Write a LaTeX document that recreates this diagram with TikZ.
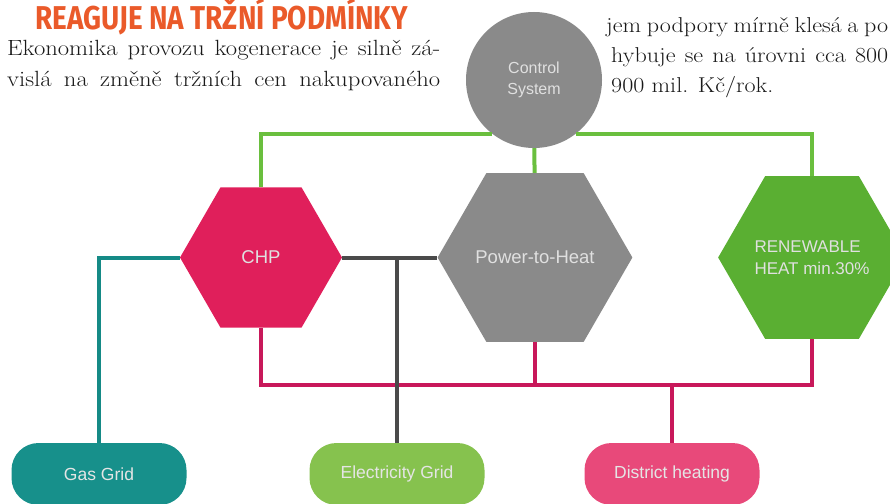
\documentclass[tikz,border=0pt]{standalone}
\usepackage{fontspec}
\usetikzlibrary{shapes.geometric,positioning}
\usepackage{xcolor}

\newfontfamily\diafont{Liberation Sans}
\newfontfamily\titlefont[FakeStretch=0.845]{Fira Sans}
\newfontfamily\pagefont[FakeStretch=1.12]{Latin Modern Roman}

\definecolor{titleorange}{HTML}{EA5A2A}
\definecolor{ctrlgrey}{HTML}{8A8A8A}
\definecolor{chpred}{HTML}{E01F5B}
\definecolor{renewgreen}{HTML}{5AAF32}
\definecolor{gasteal}{HTML}{17908B}
\definecolor{elecgreen}{HTML}{86C24E}
\definecolor{heatpink}{HTML}{E8497A}
\definecolor{ctrlline}{HTML}{6ABF3E}
\definecolor{heatline}{HTML}{C8185A}
\definecolor{gridline}{HTML}{4A4A4A}
\definecolor{gasline}{HTML}{158A86}

\tikzset{
  hexbox/.style={regular polygon, regular polygon sides=6, minimum size=162pt,
    inner sep=0pt, font=\diafont\fontsize{18.5}{22}\selectfont, text=white!88!black},
  gridbox/.style={rectangle, rounded corners=27pt, minimum width=175pt,
    minimum height=62pt, inner sep=0pt, font=\diafont\fontsize{17.5}{21}\selectfont,
    text=white!90!black},
  pagetext/.style={anchor=base west, inner sep=0pt, font=\pagefont\fontsize{22}{30}\selectfont,
    text=black!90},
  link/.style={line width=4pt},
}

\begin{document}
\begin{tikzpicture}[x=1pt,y=-1pt]
	\useasboundingbox (0,0) rectangle (890,503);
	\clip (0,0) rectangle (890,503);
	% page text round the diagram
	\node (title) [anchor=base west, inner sep=0pt, text=titleorange,
		font=\titlefont\bfseries\fontsize{33}{33}\selectfont] at (35,30) {REAGUJE NA TRŽNÍ PODMÍNKY};
	\node (left1) [pagetext] at (7,56) {\makebox[433pt][s]{Ekonomika provozu kogenerace je silně zá-}};
	\node (left2) [pagetext] at (7,86) {\makebox[433pt][s]{vislá na změně tržních cen nakupovaného}};
	\node (right1) [pagetext, font=\pagefont\fontsize{21.5}{30}\selectfont] at (606,33)
		{\makebox[282pt][s]{jem podpory mírně klesá a po}};
	\node (right2) [pagetext, font=\pagefont\fontsize{21.5}{30}\selectfont] at (611,63)
		{\makebox[277pt][s]{hybuje se na úrovni cca 800}};
	\node (right3) [pagetext, font=\pagefont\fontsize{21.5}{30}\selectfont] at (611,92) {900 mil. Kč/rok.};

	% diagram
	\node (ctrl) [circle, fill=ctrlgrey, minimum size=136pt, inner sep=0pt, align=center,
		text=white!88!black, font=\diafont\fontsize{16}{21}\selectfont] at (534, 80) {Control\\System};
	\node (chp) [hexbox, fill=chpred] at (261, 257.5) {CHP};
	\node (p2h) [hexbox, fill=ctrlgrey] at (535, 257.5) {Power-to-Heat};
	\node (ren) [hexbox, fill=renewgreen, align=left,
		font=\diafont\fontsize{17}{22}\selectfont] at (812, 257.5) {RENEWABLE\\HEAT min.30\%};
	\node (gas) [gridbox, fill=gasteal] at (99, 474) {Gas Grid};
	\node (elec) [gridbox, fill=elecgreen] at (397, 474) {Electricity Grid};
	\node (dh) [gridbox, fill=heatpink] at (672, 474) {District heating};
	\coordinate (hbus) at (0, 385);

	\draw[link, ctrlline] (ctrl) -- (p2h);
	\draw[link, ctrlline] (chp.north) |- (ctrl.-128);
	\draw[link, ctrlline] (ren.north) |- (ctrl.-52);
	\draw[link, gasline] (chp.west) -| (gas.north);
	\draw[link, heatline] (chp.south) |- (hbus -| ren.south) -- (ren.south);
	\draw[link, heatline] (p2h.south) -- (p2h.south |- hbus);
	\draw[link, heatline] (dh.north) -- (dh.north |- hbus);
	\draw[link, gridline] (chp.east) -- (p2h.west);
	\draw[link, gridline] (elec.north) -- (elec.north |- chp.east);
\end{tikzpicture}
\end{document}
